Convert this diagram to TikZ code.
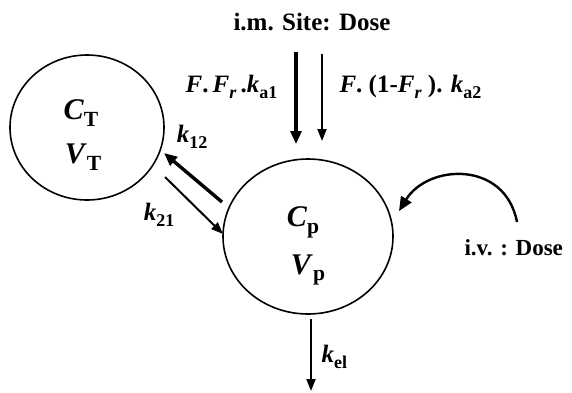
\documentclass[tikz,border=0pt]{standalone}
\usepackage{fontspec}
\setmainfont{Liberation Serif}
\usetikzlibrary{shapes.geometric,arrows.meta}
\newcommand{\lo}[1]{\raisebox{-0.5ex}{\scalebox{0.72}{#1}}}

\begin{document}
\begin{tikzpicture}[x=1pt,y=-1pt,
    comp/.style={draw,ellipse,line width=1.6pt,inner sep=0pt},
    thk/.style={line width=3.4pt,-{Triangle[length=13pt,width=11pt]}},
    thn/.style={line width=2pt,-{Triangle[length=12pt,width=9pt]}},
    lbl/.style={font=\fontsize{25}{27}\selectfont\bfseries},
    big/.style={font=\fontsize{30}{32}\selectfont\bfseries}]
    \useasboundingbox (0,0) rectangle (572,392);
    % compartments
    \node [comp,minimum width=154pt,minimum height=145pt] (tis) at (87,127.5) {};
    \node [comp,minimum width=170pt,minimum height=155pt] (pla) at (308,236.5) {};
    \node [big] (ct) at (81,113) {\textit{C}\lo{T}};
    \node [big] (vt) at (83,157) {\textit{V}\lo{T}};
    \node [big] (cp) at (303,222) {\textit{C}\lo{p}};
    \node [big] (vp) at (308,270) {\textit{V}\lo{p}};
    % i.m. absorption
    \node [lbl] (ims) at (312,22) {i.m. Site: Dose};
    \coordinate (a1s) at (296,52);
    \coordinate (a1e) at (296,144);
    \coordinate (a2s) at (322,54);
    \coordinate (a2e) at (322,141);
    \draw [thk] (a1s) -- (a1e);
    \draw [thn] (a2s) -- (a2e);
    \node [lbl,anchor=east] (ka1) at (281,87) {\textit{F}.\,\textit{F}\lo{\textit{r}}\,.\textit{k}\lo{a1}};
    \node [lbl,anchor=west] (ka2) at (336,87) {\textit{F}. (1-\textit{F}\lo{\textit{r}} ). \textit{k}\lo{a2}};
    % distribution
    \coordinate (k12s) at (222,202);
    \coordinate (k12e) at (164,153);
    \coordinate (k21s) at (165,177);
    \coordinate (k21e) at (223,234);
    \draw [thk] (k12s) -- (k12e);
    \draw [thn] (k21s) -- (k21e);
    \node [lbl] (k12) at (192,137) {\textit{k}\lo{12}};
    \node [lbl] (k21) at (159,215) {\textit{k}\lo{21}};
    % elimination
    \coordinate (kels) at (311,319);
    \coordinate (kele) at (311,391);
    \draw [thn] (kels) -- (kele);
    \node [lbl,anchor=west] (kel) at (318,357) {\textit{k}\lo{el}};
    % i.v. bolus
    \node [lbl,anchor=west,font=\fontsize{23}{25}\selectfont\bfseries] (ivd) at (461,248) {i.v. : Dose};
    \coordinate (ivs) at (517,222);
    \coordinate (ive) at (399,211);
    \draw [line width=2.4pt,-{Triangle[length=14pt,width=12pt]}] (ivs) .. controls (505,160) and (428,164) .. (ive);
\end{tikzpicture}
\end{document}
